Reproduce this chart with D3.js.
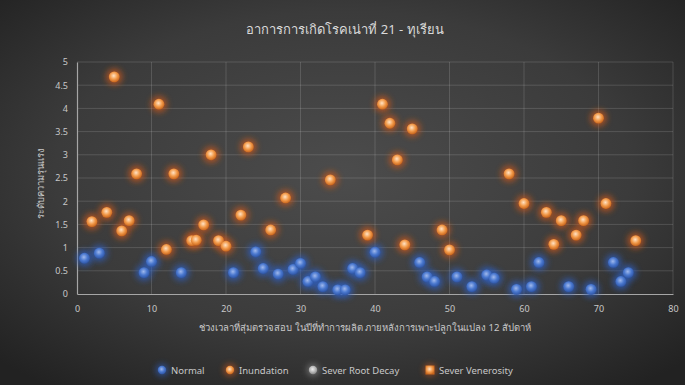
<!DOCTYPE html>
<html>
<head>
<meta charset="utf-8">
<script src="https://cdn.jsdelivr.net/npm/d3@7"></script>
<style>
  html, body { margin: 0; padding: 0; background: #2b2b2b; }
  svg { display: block; }
  text { font-family: "Noto Sans", "DejaVu Sans", sans-serif; }
</style>
</head>
<body>
<svg id="chart" width="685" height="385"></svg>
<script>
// Sampling positions and scores for each symptom group
const normalX = [1, 3, 9, 10, 14, 21, 24, 25, 27, 29, 30, 31, 32, 33, 35, 36, 37, 38, 40, 46, 47, 48, 51, 53, 55, 56, 59, 61, 62, 66, 69, 72, 73, 74];
const normalY = [0.77, 0.88, 0.46, 0.70, 0.46, 0.46, 0.91, 0.55, 0.43, 0.53, 0.66, 0.27, 0.37, 0.16, 0.09, 0.09, 0.55, 0.46, 0.90, 0.68, 0.37, 0.27, 0.37, 0.16, 0.41, 0.34, 0.10, 0.16, 0.68, 0.16, 0.10, 0.68, 0.27, 0.46];

const inundationX = [2, 4, 5, 6, 7, 8, 11, 12, 13, 15.4, 16, 17, 18, 19, 20, 22, 23, 26, 28, 34, 39, 41, 42, 43, 44, 45, 49, 50, 58, 60, 63, 64, 65, 67, 68, 70, 71, 75];
const inundationY = [1.56, 1.76, 4.68, 1.36, 1.58, 2.59, 4.09, 0.96, 2.59, 1.15, 1.16, 1.49, 3.0, 1.15, 1.03, 1.70, 3.17, 1.38, 2.07, 2.46, 1.27, 4.09, 3.68, 2.89, 1.06, 3.56, 1.38, 0.95, 2.59, 1.95, 1.76, 1.07, 1.58, 1.27, 1.58, 3.79, 1.95, 1.15];

const rootDecayX = [];
const rootDecayY = [];
const venerosityX = [];
const venerosityY = [];

const xTicks = [0, 10, 20, 30, 40, 50, 60, 70, 80];
const yTicks = [0, 0.5, 1, 1.5, 2, 2.5, 3, 3.5, 4, 4.5, 5];

const seriesNames = ["Normal", "Inundation", "Sever Root Decay", "Sever Venerosity"];

const titleText = "อาการการเกิดโรคเน่าที่ 21 - ทุเรียน";
const xTitle = "ช่วงเวลาที่สุ่มตรวจสอบ ในปีที่ทำการผลิต ภายหลังการเพาะปลูกในแปลง 12 สัปดาห์";
const yTitle = "ระดับความรุนแรง";

const W = 685, H = 385;
const margin = { left: 77, right: 12, top: 62, bottom: 91 };
const svg = d3.select("#chart");
const defs = svg.append("defs");

// Dark radial backdrop
const bg = defs.append("radialGradient").attr("id", "bg")
  .attr("cx", "50%").attr("cy", "45%").attr("r", "70%");
bg.append("stop").attr("offset", "0%").attr("stop-color", "#4c4c4c");
bg.append("stop").attr("offset", "60%").attr("stop-color", "#3b3b3b");
bg.append("stop").attr("offset", "100%").attr("stop-color", "#222222");
svg.append("rect").attr("width", W).attr("height", H).attr("fill", "url(#bg)");

// Marker fills and glow
function ballGradient(id, inner, mid, outer) {
  const g = defs.append("radialGradient").attr("id", id)
    .attr("cx", "45%").attr("cy", "40%").attr("r", "60%");
  g.append("stop").attr("offset", "0%").attr("stop-color", inner);
  g.append("stop").attr("offset", "55%").attr("stop-color", mid);
  g.append("stop").attr("offset", "100%").attr("stop-color", outer);
}
ballGradient("ballOrange", "#ffe2c4", "#f29a4a", "#c8651c");
ballGradient("ballBlue", "#9fb8ec", "#4a78cf", "#2f56a6");
ballGradient("ballGray", "#eeeeee", "#bbbbbb", "#8a8a8a");

const glow = defs.append("filter").attr("id", "glow")
  .attr("x", "-100%").attr("y", "-100%").attr("width", "300%").attr("height", "300%");
glow.append("feGaussianBlur").attr("stdDeviation", 3.2);

const x = d3.scaleLinear().domain([0, 80]).range([margin.left, W - margin.right]);
const y = d3.scaleLinear().domain([0, 5]).range([H - margin.bottom, margin.top]);

// Gridlines
svg.append("g").selectAll("line.h").data(yTicks.filter(d => d > 0)).join("line")
  .attr("x1", x(0)).attr("x2", x(80))
  .attr("y1", d => y(d)).attr("y2", d => y(d))
  .attr("stroke", "#ffffff").attr("stroke-opacity", 0.14).attr("stroke-width", 1);
svg.append("g").selectAll("line.v").data(xTicks.filter(d => d > 0)).join("line")
  .attr("x1", d => x(d)).attr("x2", d => x(d))
  .attr("y1", y(0)).attr("y2", y(5))
  .attr("stroke", "#ffffff").attr("stroke-opacity", 0.14).attr("stroke-width", 1);

// Axes
const xAxis = svg.append("g").attr("transform", `translate(0,${y(0)})`)
  .call(d3.axisBottom(x).tickValues(xTicks).tickSize(0).tickPadding(12));
const yAxis = svg.append("g").attr("transform", `translate(${x(0)},0)`)
  .call(d3.axisLeft(y).tickValues(yTicks).tickSize(0).tickPadding(9).tickFormat(d3.format("")));
[xAxis, yAxis].forEach(a => {
  a.select(".domain").attr("stroke", "#a6a6a6").attr("stroke-width", 1.2);
  a.selectAll("text").attr("fill", "#c8c8c8").style("font-size", "9px");
});

// Scatter marks
function drawSeries(xs, ys, fill, glowColor) {
  const pts = xs.map((v, i) => [v, ys[i]]);
  const g = svg.append("g");
  g.selectAll("circle.glow").data(pts).join("circle")
    .attr("cx", d => x(d[0])).attr("cy", d => y(d[1])).attr("r", 8)
    .attr("fill", glowColor).attr("opacity", 0.8).attr("filter", "url(#glow)");
  g.selectAll("circle.ball").data(pts).join("circle")
    .attr("cx", d => x(d[0])).attr("cy", d => y(d[1])).attr("r", 5.4)
    .attr("fill", fill);
}
drawSeries(normalX, normalY, "url(#ballBlue)", "#2d5fc0");
drawSeries(inundationX, inundationY, "url(#ballOrange)", "#c9581a");
drawSeries(rootDecayX, rootDecayY, "url(#ballGray)", "#888888");
drawSeries(venerosityX, venerosityY, "url(#ballOrange)", "#c9581a");

// Titles
svg.append("text").attr("x", 345).attr("y", 34).attr("text-anchor", "middle")
  .attr("fill", "#d9d9d9").style("font-size", "13px").text(titleText);
svg.append("text").attr("x", 365).attr("y", 331).attr("text-anchor", "middle")
  .attr("fill", "#c8c8c8").style("font-size", "9.5px").text(xTitle);
svg.append("text").attr("transform", `translate(44,${(y(0) + y(5)) / 2 + 5}) rotate(-90)`)
  .attr("text-anchor", "middle").attr("fill", "#c8c8c8").style("font-size", "9.5px").text(yTitle);

// Legend
const legendItems = [
  { name: seriesNames[0], fill: "url(#ballBlue)", glow: "#2d5fc0", shape: "circle", x: 162 },
  { name: seriesNames[1], fill: "url(#ballOrange)", glow: "#c9581a", shape: "circle", x: 230 },
  { name: seriesNames[2], fill: "url(#ballGray)", glow: "#888888", shape: "circle", x: 313 },
  { name: seriesNames[3], fill: "url(#ballOrange)", glow: "#c9581a", shape: "square", x: 430 }
];
const lg = svg.append("g").attr("transform", "translate(0,370)");
legendItems.forEach(it => {
  const g = lg.append("g").attr("transform", `translate(${it.x},0)`);
  g.append("circle").attr("r", 6).attr("fill", it.glow).attr("opacity", 0.7).attr("filter", "url(#glow)");
  if (it.shape === "circle") {
    g.append("circle").attr("r", 4.2).attr("fill", it.fill);
  } else {
    g.append("rect").attr("x", -4.5).attr("y", -4.5).attr("width", 9).attr("height", 9).attr("fill", it.fill);
  }
  g.append("text").attr("x", 9).attr("y", 3.5).attr("fill", "#c8c8c8")
    .style("font-size", "9.5px").text(it.name);
});
</script>
</body>
</html>
